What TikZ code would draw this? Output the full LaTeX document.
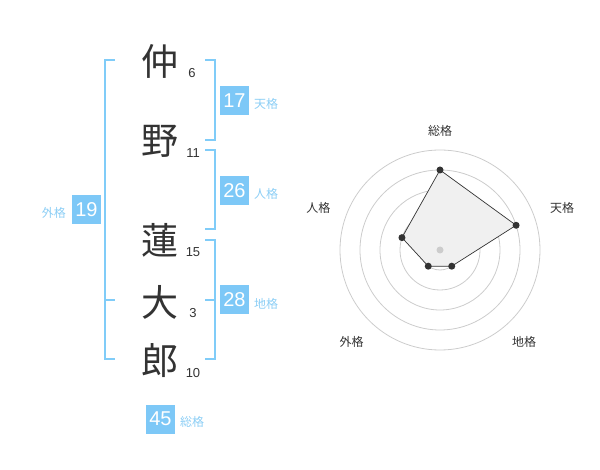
\documentclass[tikz,border=0pt]{standalone}
\usepackage{fontspec}
\setmainfont{Liberation Sans}
\newfontfamily\jp{Noto Sans CJK JP}
\definecolor{brk}{HTML}{80CCF8}
\definecolor{boxc}{HTML}{7DC8F7}
\definecolor{lbl}{HTML}{8CCEF5}
\definecolor{ink}{HTML}{333333}
\definecolor{ring}{HTML}{CCCCCC}
\begin{document}
\begin{tikzpicture}[x=1pt,y=-1pt,
  kanji/.style={font=\jp\fontsize{37}{40}\selectfont, text=ink, inner sep=0pt},
  cnt/.style={font=\fontsize{13}{14}\selectfont, text=ink, inner sep=0pt},
  numbox/.style={fill=boxc, text=white, minimum size=29pt, inner sep=0pt, font=\fontsize{20}{22}\selectfont},
  lab/.style={font=\jp\fontsize{12}{13}\selectfont, text=lbl, inner sep=0pt},
  brkline/.style={draw=brk, line width=2pt},
  ringline/.style={draw=ring, line width=0.8pt},
  rlab/.style={font=\jp\fontsize{12}{13}\selectfont, text=ink, inner sep=0pt},
  dot/.style={circle, fill=ink, inner sep=0pt, minimum size=7pt},
]
\useasboundingbox (0,0) rectangle (600,470);
% name characters
\node[kanji] (k1) at (160,61) {仲};
\node[kanji] (k2) at (160,141) {野};
\node[kanji] (k3) at (160,240) {蓮};
\node[kanji] (k4) at (160,302) {大};
\node[kanji] (k5) at (160,361) {郎};
% stroke counts
\node[cnt] (c1) at (192,73) {6};
\node[cnt] (c2) at (193,153) {11};
\node[cnt] (c3) at (193,252) {15};
\node[cnt] (c4) at (193,313) {3};
\node[cnt] (c5) at (193,373) {10};
% brackets
\draw[brkline] (115,60) -- (105,60) -- (105,359) -- (115,359);
\draw[brkline] (105,300) -- (115,300);
\draw[brkline] (205,60) -- (215,60) -- (215,140) -- (205,140);
\draw[brkline] (205,150) -- (215,150) -- (215,229) -- (205,229);
\draw[brkline] (205,240) -- (215,240) -- (215,359) -- (205,359);
\draw[brkline] (205,300) -- (215,300);
% boxes and labels
\node[numbox] (ten) at (234.5,100.5) {17};
\node[lab, anchor=west] (tenl) at (254,103.5) {天格};
\node[numbox] (jin) at (234.5,190.5) {26};
\node[lab, anchor=west] (jinl) at (254,193.5) {人格};
\node[numbox] (chi) at (234.5,300) {28};
\node[lab, anchor=west] (chil) at (254,303.5) {地格};
\node[numbox] (gai) at (86.5,210) {19};
\node[lab, anchor=east] (gail) at (66,213) {外格};
\node[numbox] (sou) at (160.5,419) {45};
\node[lab, anchor=west] (soul) at (180,422) {総格};
% radar chart
\coordinate (c) at (440,250);
\foreach \r in {20,40,60,80,100} \draw[ringline] (c) circle[radius=\r];
\path (c) ++(-90:80) coordinate (p1);
\path (c) ++(-18:80) coordinate (p2);
\path (c) ++(54:20) coordinate (p3);
\path (c) ++(126:20) coordinate (p4);
\path (c) ++(-162:40) coordinate (p5);
\draw[fill=black!6, draw=ink, line width=0.7pt] (p1) -- (p2) -- (p3) -- (p4) -- (p5) -- cycle;
\foreach \p in {p1,p2,p3,p4,p5} \node[dot] at (\p) {};
\node[circle, fill=ring, inner sep=0pt, minimum size=7pt] (cd) at (c) {};
\node[rlab] (r1) at (440,130.5) {総格};
\node[rlab] (r2) at (562,208.3) {天格};
\node[rlab] (r3) at (318.3,208.3) {人格};
\node[rlab] (r4) at (351.7,341.7) {外格};
\node[rlab] (r5) at (524,341.7) {地格};
\end{tikzpicture}
\end{document}
